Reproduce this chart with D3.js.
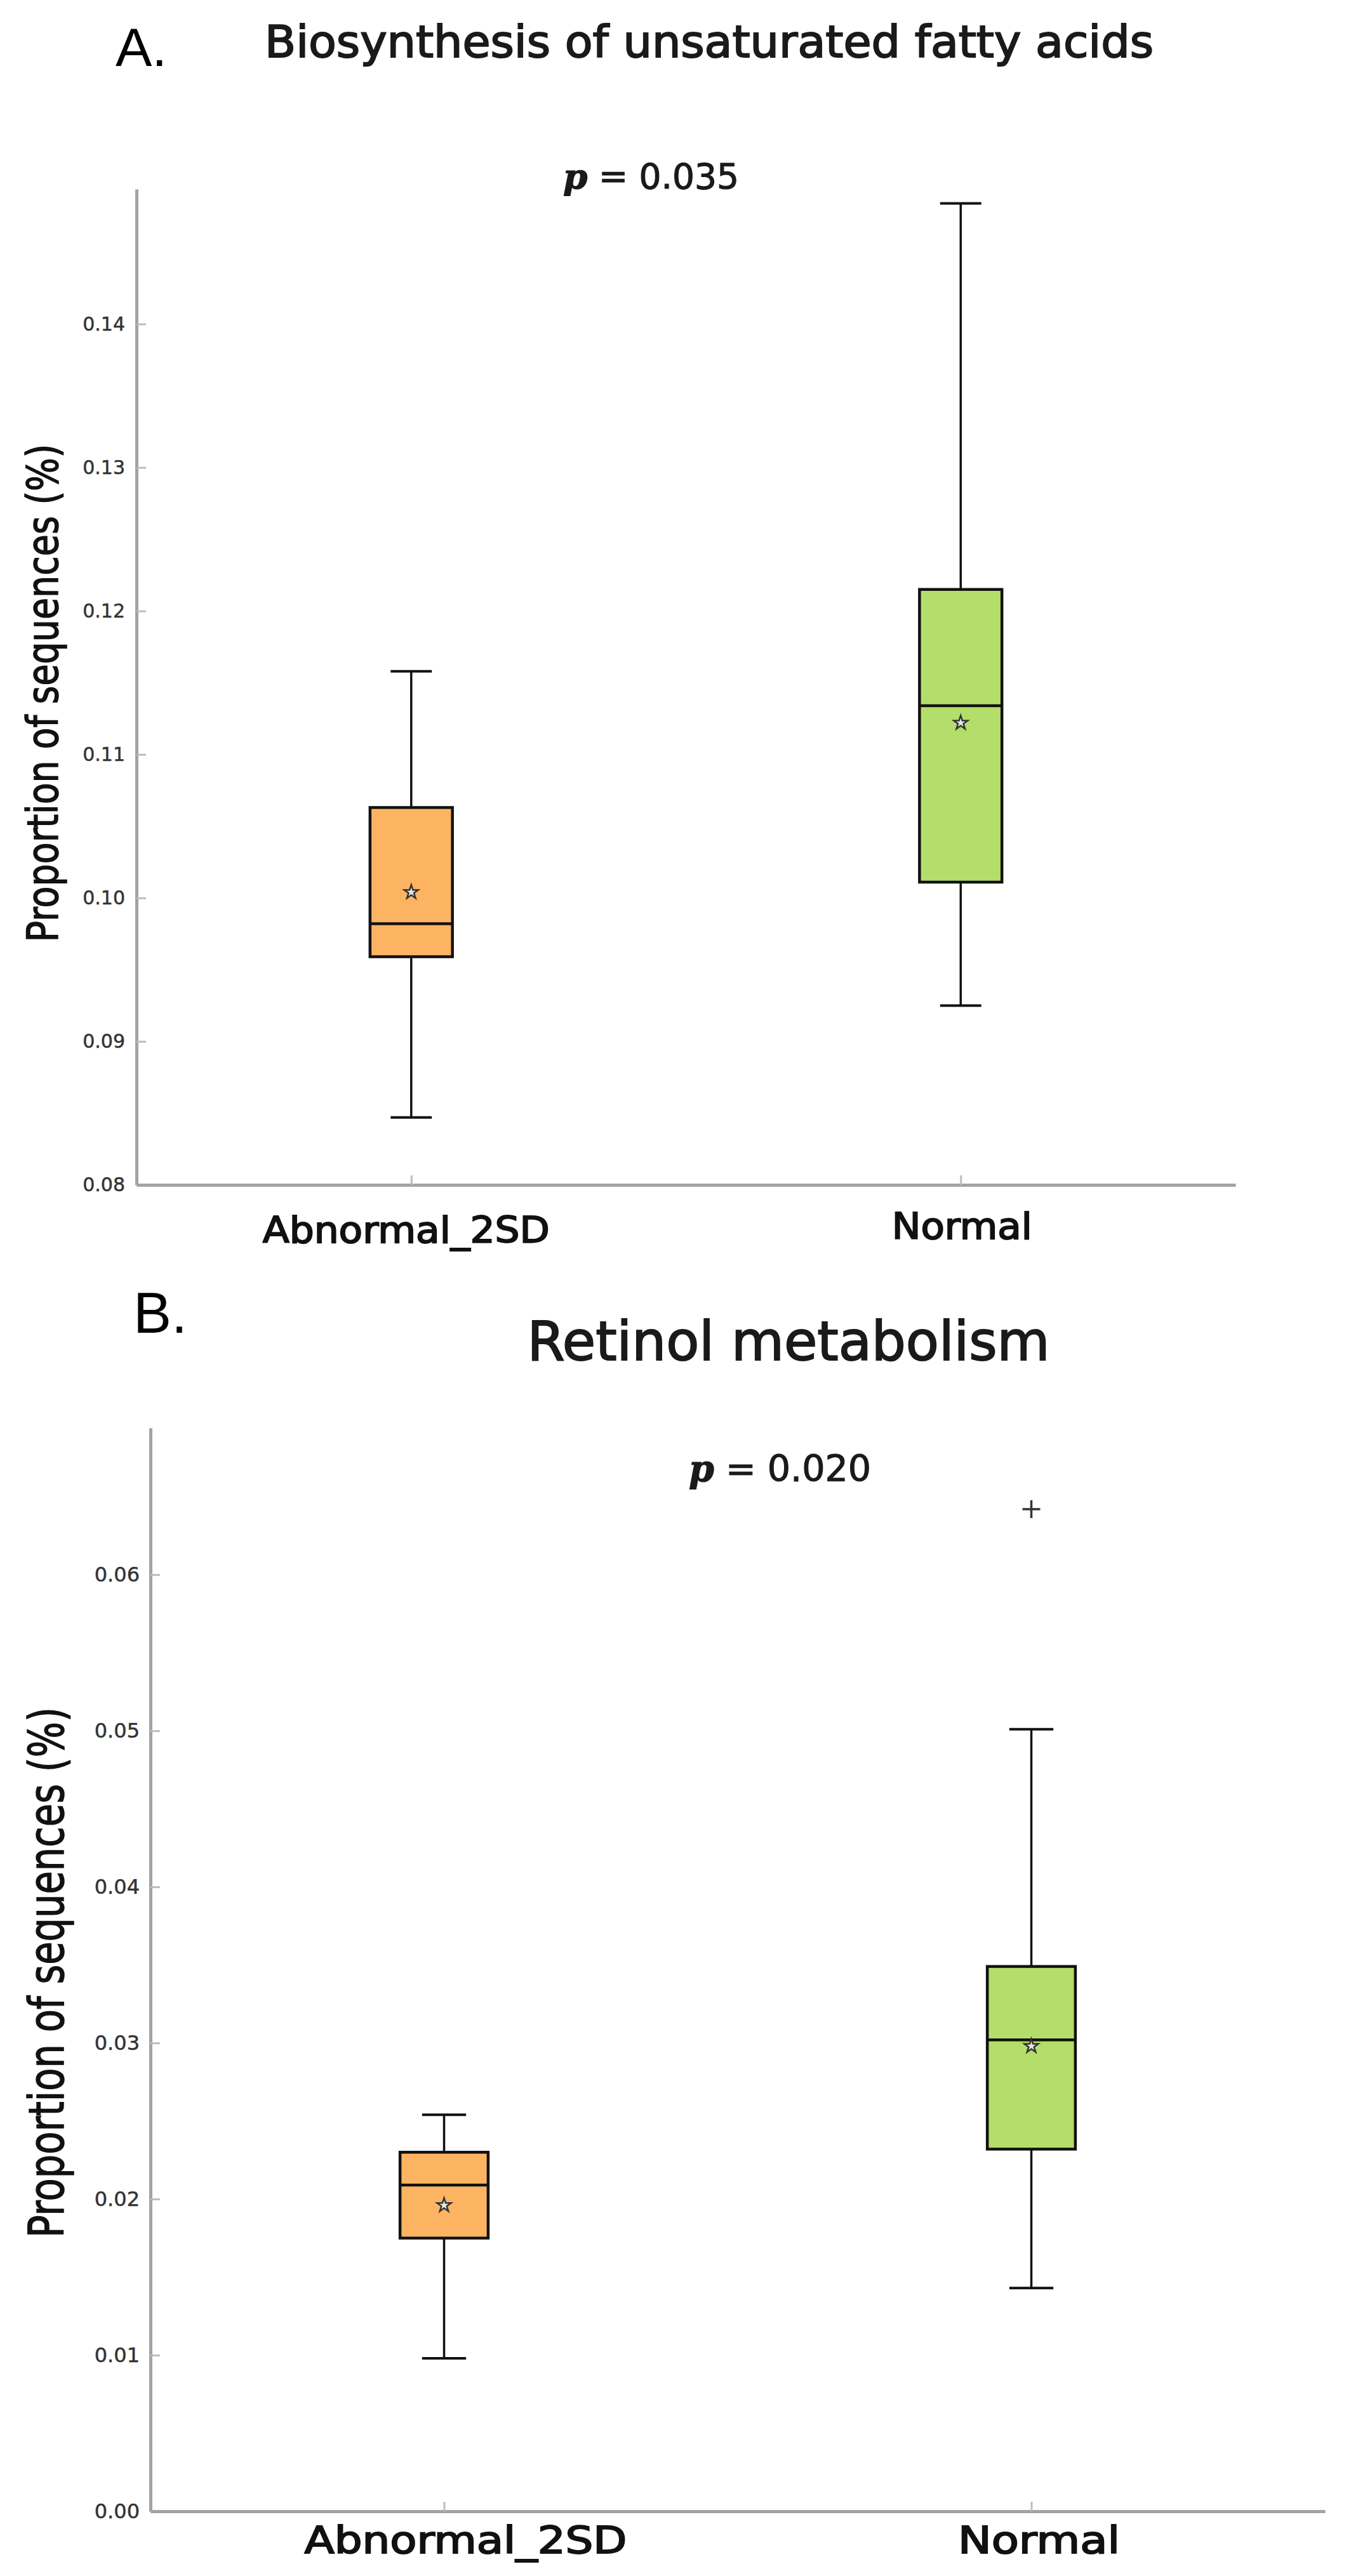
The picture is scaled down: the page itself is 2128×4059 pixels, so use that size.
<!DOCTYPE html>
<html>
<head>
<meta charset="utf-8">
<script src="https://cdn.jsdelivr.net/npm/d3@7"></script>
<style>
  body { margin: 0; background: #fff; }
  svg { display: block; }
</style>
</head>
<body>
<div id="chart"></div>
<script>
// groups shared by both panels
const groups = ["Abnormal_2SD", "Normal"];
const groupPos = [1, 2];
const boxColors = ["#fdb462", "#b3de69"];

// A. Biosynthesis of unsaturated fatty acids
const fattyLow = [0.0847, 0.0925];
const fattyQ1 = [0.0959, 0.1011];
const fattyMedian = [0.0982, 0.1134];
const fattyQ3 = [0.1063, 0.1215];
const fattyHigh = [0.1158, 0.1484];
const fattyMean = [0.1004, 0.1122];
const fattyOutliers = [[], []];
const fattyTicks = [0.08, 0.09, 0.10, 0.11, 0.12, 0.13, 0.14];

// B. Retinol metabolism
const retinolLow = [0.0098, 0.0143];
const retinolQ1 = [0.0175, 0.0232];
const retinolMedian = [0.0209, 0.0302];
const retinolQ3 = [0.0230, 0.0349];
const retinolHigh = [0.0254, 0.0501];
const retinolMean = [0.0196, 0.0298];
const retinolOutliers = [[], [0.0642]];
const retinolTicks = [0.00, 0.01, 0.02, 0.03, 0.04, 0.05, 0.06];

const W = 2128, H = 4059;

//SVG контейнер
const svg = d3.select("#chart").append("svg")
    .attr("width", W)
    .attr("height", H);
svg.append("rect").attr("width", W).attr("height", H).attr("fill", "#fff");

function boxes(low, q1, med, q3, high, mean, outl) {
    return groups.map((g, i) => ({
        name: g, pos: groupPos[i], color: boxColors[i],
        low: low[i], q1: q1[i], med: med[i], q3: q3[i], high: high[i],
        mean: mean[i], outliers: outl[i]
    }));
}

// page layout of the two panels
const panels = [
    {
        letter: "A.", letterX: 182, letterY: 104, letterSize: 86,
        title: "Biosynthesis of unsaturated fatty acids", titleX: 1117, titleY: 90, titleSize: 69, titleLen: 1400,
        p: "0.035", pX: 887, pY: 297, pSize: 55,
        left: 215, right: 1946, top: 298, bottom: 1867, yMin: 0.08, yMax: 0.1494,
        ticks: fattyTicks, tickSize: 30, tickPad: 18,
        yLabelX: 91, yLabelY: 1092, yLabelSize: 67, yLabelLen: 785,
        xLabelY: [1958, 1952], xLabelDx: [-8, 2], xLabelSize: 57, xLabelLen: [452, 221],
        data: boxes(fattyLow, fattyQ1, fattyMedian, fattyQ3, fattyHigh, fattyMean, fattyOutliers)
    },
    {
        letter: "B.", letterX: 210, letterY: 2100, letterSize: 90,
        title: "Retinol metabolism", titleX: 1242, titleY: 2143, titleSize: 86, titleLen: 823,
        p: "0.020", pX: 1085, pY: 2334, pSize: 57,
        left: 237, right: 2087, top: 2250, bottom: 3957, yMin: 0, yMax: 0.0694,
        ticks: retinolTicks, tickSize: 32, tickPad: 17,
        yLabelX: 100, yLabelY: 3108, yLabelSize: 77, yLabelLen: 836,
        xLabelY: [4023, 4023], xLabelDx: [34, 12], xLabelSize: 58, xLabelLen: [508, 255],
        data: boxes(retinolLow, retinolQ1, retinolMedian, retinolQ3, retinolHigh, retinolMean, retinolOutliers)
    }
];

const boxWidth = 0.15;
const capWidth = 0.075;

panels.forEach(drawPanel);

function drawPanel(p) {
    const g = svg.append("g");

    const x = d3.scaleLinear().domain([0.5, 2.5]).range([p.left, p.right]);
    const y = d3.scaleLinear().domain([p.yMin, p.yMax]).range([p.bottom, p.top]);

    //Буква панели и заголовок
    g.append("text")
        .attr("x", p.letterX).attr("y", p.letterY)
        .attr("font-family", "Liberation Sans, Arial, sans-serif")
        .attr("font-size", p.letterSize)
        .attr("fill", "#000")
        .text(p.letter);

    //исходная картинка размыта, поэтому текст чуть жирнее обычного
    g.append("text")
        .attr("x", p.titleX).attr("y", p.titleY)
        .attr("text-anchor", "middle")
        .attr("font-family", "DejaVu Sans, sans-serif")
        .attr("font-size", p.titleSize)
        .attr("textLength", p.titleLen)
        .attr("lengthAdjust", "spacingAndGlyphs")
        .attr("fill", "#1a1a1a")
        .attr("stroke", "#1a1a1a")
        .attr("stroke-width", 2)
        .text(p.title);

    //p-value
    const pt = g.append("text")
        .attr("x", p.pX).attr("y", p.pY)
        .attr("font-family", "DejaVu Sans, sans-serif")
        .attr("font-size", p.pSize)
        .attr("fill", "#1a1a1a")
        .attr("stroke", "#1a1a1a")
        .attr("stroke-width", 1.2);
    pt.append("tspan")
        .attr("font-family", "DejaVu Serif, serif")
        .attr("font-style", "italic")
        .attr("font-weight", "bold")
        .text("p");
    pt.append("tspan").text(" = " + p.p);

    //Оси
    const yAxis = g.append("g")
        .attr("transform", `translate(${p.left},0)`)
        .call(d3.axisLeft(y)
            .tickValues(p.ticks)
            .tickFormat(d3.format(".2f"))
            .tickSizeInner(-15)
            .tickSizeOuter(0)
            .tickPadding(p.tickPad));

    const xAxis = g.append("g")
        .attr("transform", `translate(0,${p.bottom})`)
        .call(d3.axisBottom(x)
            .tickValues(groupPos)
            .tickFormat("")
            .tickSizeInner(-15)
            .tickSizeOuter(0));

    [yAxis, xAxis].forEach(a => {
        a.select(".domain").attr("stroke", "#a3a3a3").attr("stroke-width", 5);
        a.selectAll(".tick line").attr("stroke", "#bdbdbd").attr("stroke-width", 3);
    });
    yAxis.selectAll(".tick text")
        .attr("font-family", "DejaVu Sans, sans-serif")
        .attr("font-size", p.tickSize)
        .attr("fill", "#333")
        .attr("stroke", "#333")
        .attr("stroke-width", 0.5);

    //Подпись оси Y
    g.append("text")
        .attr("transform", `translate(${p.yLabelX},${p.yLabelY}) rotate(-90)`)
        .attr("text-anchor", "middle")
        .attr("font-family", "DejaVu Sans, sans-serif")
        .attr("font-size", p.yLabelSize)
        .attr("textLength", p.yLabelLen)
        .attr("lengthAdjust", "spacingAndGlyphs")
        .attr("fill", "#111")
        .attr("stroke", "#111")
        .attr("stroke-width", 1.5)
        .text("Proportion of sequences (%)");

    //Подписи групп
    g.selectAll(".xlabel")
        .data(p.data)
        .enter().append("text")
        .attr("class", "xlabel")
        .attr("x", (d, i) => x(d.pos) + p.xLabelDx[i])
        .attr("y", (d, i) => p.xLabelY[i])
        .attr("text-anchor", "middle")
        .attr("font-family", "DejaVu Sans, sans-serif")
        .attr("font-size", p.xLabelSize)
        .attr("textLength", (d, i) => p.xLabelLen[i])
        .attr("lengthAdjust", "spacingAndGlyphs")
        .attr("fill", "#111")
        .attr("stroke", "#111")
        .attr("stroke-width", 2)
        .text(d => d.name);

    //Боксплоты
    const box = g.selectAll(".box")
        .data(p.data)
        .enter().append("g")
        .attr("class", "box");

    // whiskers
    box.append("line")
        .attr("x1", d => x(d.pos)).attr("x2", d => x(d.pos))
        .attr("y1", d => y(d.high)).attr("y2", d => y(d.q3))
        .attr("stroke", "#111").attr("stroke-width", 3.5);
    box.append("line")
        .attr("x1", d => x(d.pos)).attr("x2", d => x(d.pos))
        .attr("y1", d => y(d.q1)).attr("y2", d => y(d.low))
        .attr("stroke", "#111").attr("stroke-width", 3.5);

    // caps
    ["high", "low"].forEach(k => {
        box.append("line")
            .attr("x1", d => x(d.pos - capWidth / 2)).attr("x2", d => x(d.pos + capWidth / 2))
            .attr("y1", d => y(d[k])).attr("y2", d => y(d[k]))
            .attr("stroke", "#111").attr("stroke-width", 4);
    });

    // box
    box.append("rect")
        .attr("x", d => x(d.pos - boxWidth / 2))
        .attr("width", d => x(d.pos + boxWidth / 2) - x(d.pos - boxWidth / 2))
        .attr("y", d => y(d.q3))
        .attr("height", d => y(d.q1) - y(d.q3))
        .attr("fill", d => d.color)
        .attr("stroke", "#111")
        .attr("stroke-width", 4.5);

    // median
    box.append("line")
        .attr("x1", d => x(d.pos - boxWidth / 2)).attr("x2", d => x(d.pos + boxWidth / 2))
        .attr("y1", d => y(d.med)).attr("y2", d => y(d.med))
        .attr("stroke", "#111").attr("stroke-width", 4.5);

    // mean star
    box.append("path")
        .attr("d", d3.symbol(d3.symbolStar, 150))
        .attr("transform", d => `translate(${x(d.pos)},${y(d.mean)})`)
        .attr("fill", "#e6e6e6")
        .attr("stroke", "#333")
        .attr("stroke-width", 2.5);

    // outliers
    box.selectAll(".outlier")
        .data(d => d.outliers.map(v => ({ pos: d.pos, v: v })))
        .enter().append("path")
        .attr("class", "outlier")
        .attr("d", d => {
            const cx = x(d.pos), cy = y(d.v), r = 14;
            return `M${cx - r},${cy}H${cx + r}M${cx},${cy - r}V${cy + r}`;
        })
        .attr("stroke", "#333")
        .attr("stroke-width", 3.5)
        .attr("fill", "none");
}
</script>
</body>
</html>
